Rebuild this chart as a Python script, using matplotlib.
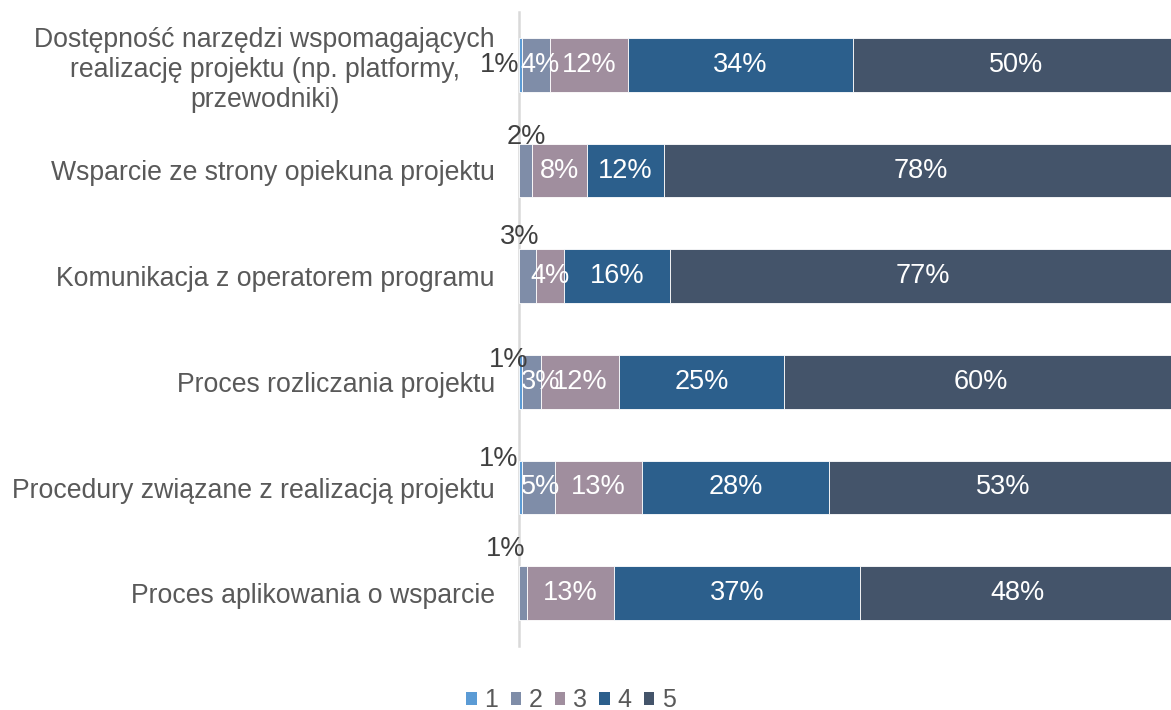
import matplotlib
matplotlib.use("Agg")
import matplotlib.pyplot as plt
import numpy as np

plt.rcParams['font.family'] = ['Liberation Sans', 'DejaVu Sans']

categories = [
    "Dostępność narzędzi wspomagających\nrealizację projektu (np. platformy,\nprzewodniki)",
    "Wsparcie ze strony opiekuna projektu",
    "Komunikacja z operatorem programu",
    "Proces rozliczania projektu",
    "Procedury związane z realizacją projektu",
    "Proces aplikowania o wsparcie",
]
series_names = ["1", "2", "3", "4", "5"]
s1 = [0.6, 0.0, 0.0, 0.6, 0.6, 0.0]
s2 = [4.2, 2.0, 2.6, 2.8, 4.9, 1.3]
s3 = [11.9, 8.4, 4.3, 11.9, 13.3, 13.3]
s4 = [34.2, 11.8, 16.1, 25.1, 28.4, 37.4]
s5 = [49.6, 78.0, 77.0, 60.0, 53.0, 48.0]
series = [s1, s2, s3, s4, s5]
colors = ["#5B9BD5", "#7F8DA8", "#A08E9E", "#2C5F8C", "#44546A"]

# label placement for small segments: (row, series) -> (dx px, dy px, ha)
outside = {
    (0, 0): (1, 0, "right"),
    (1, 1): (1, 34, "center"),
    (2, 1): (-7, 39, "center"),
    (3, 0): (-12, 22, "center"),
    (4, 0): (-22, 28, "center"),
    (5, 1): (-17, 44, "center"),
}

fig = plt.figure(figsize=(11.71, 7.10), dpi=100)
ax = fig.add_axes([518.5/1171, 1 - 646/710, 1 - 518.5/1171, (646 - 12)/710])

y = np.arange(len(categories))
left = np.zeros(len(categories))
inside_texts = []
for si, vals in enumerate(series):
    vals = np.array(vals, dtype=float)
    ax.barh(y, vals, left=left, height=0.51, color=colors[si],
            edgecolor="#FFFFFF", linewidth=0.6, label=series_names[si], zorder=2)
    for ri, v in enumerate(vals):
        if v <= 0:
            continue
        cx = left[ri] + v / 2
        txt = f"{int(round(v))}%"
        if (ri, si) in outside:
            dx, dy, ha = outside[(ri, si)]
            xx = left[ri] if ha == "right" else cx
            ax.annotate(txt, (xx, ri), xytext=(dx, dy), textcoords="offset pixels",
                        ha=ha, va="center", fontsize=19.5, color="#404040", zorder=3,
                        annotation_clip=False)
        else:
            t = ax.text(cx, ri, txt, ha="center", va="center", fontsize=19.5,
                        color="white", zorder=3)
            inside_texts.append(t)
    left += vals

ax.set_xlim(0, 99.3)
ax.set_ylim(len(categories) - 0.5, -0.5)
ax.set_yticks(y)
ax.set_yticklabels(categories, fontsize=19.2, color="#595959", multialignment="center",
                   linespacing=1.21)
ax.tick_params(axis="y", length=0, pad=17)
ax.set_xticks([])
for sp in ["top", "right", "bottom"]:
    ax.spines[sp].set_visible(False)
ax.spines["left"].set_color("#D9D9D9")
ax.spines["left"].set_linewidth(1.8)
ax.spines["left"].set_zorder(1)

handles, labels = ax.get_legend_handles_labels()
leg = fig.legend(handles, labels, loc="center", bbox_to_anchor=(571/1171, 1 - 700/710),
                 ncol=5, frameon=False, fontsize=18, handlelength=0.42, handleheight=0.42,
                 handletextpad=0.3, columnspacing=0.5, labelcolor="#595959")
for h in leg.legend_handles:
    h.set_edgecolor("none")

# keep inside labels within the plot area (as the original chart does)
fig.canvas.draw()
renderer = fig.canvas.get_renderer()
ax_left_px = ax.transData.transform((0, 0))[0]
px_per_unit = ax.transData.transform((1, 0))[0] - ax_left_px
for t in inside_texts:
    bb = t.get_window_extent(renderer)
    if bb.x0 < ax_left_px + 2:
        shift = (ax_left_px + 2 - bb.x0) / px_per_unit
        x0, y0 = t.get_position()
        t.set_position((x0 + shift, y0))

fig.savefig("out.png", dpi=100)
